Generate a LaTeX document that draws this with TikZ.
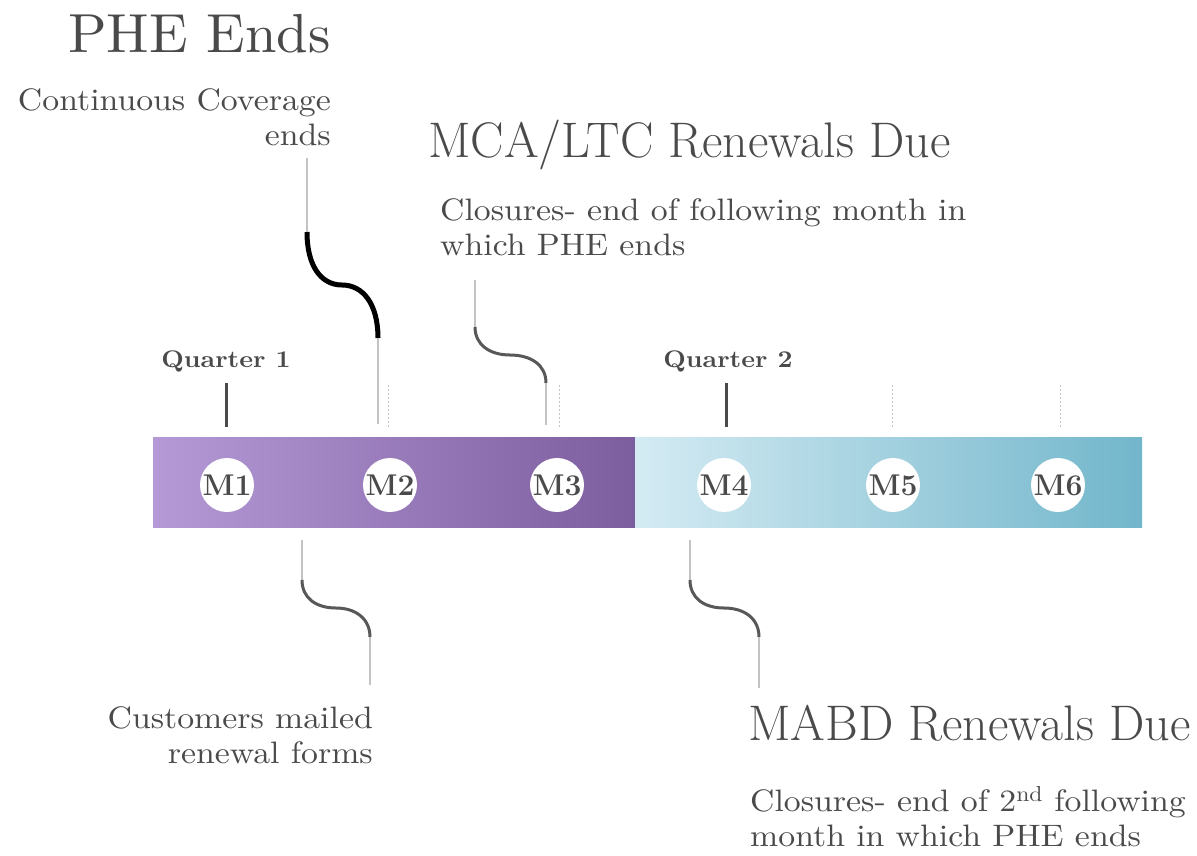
\documentclass[tikz,border=0pt]{standalone}
\usepackage{fontspec}
\newfontfamily\notefont{lmroman10-regular.otf}[BoldFont=lmroman10-bold.otf,FakeStretch=1.09]
\newfontfamily\headfont{lmroman10-regular.otf}[FakeStretch=1.03]
\usetikzlibrary{positioning}
\definecolor{txtgray}{RGB}{74,74,74}
\definecolor{lavlight}{RGB}{181,153,214}
\definecolor{lavdark}{RGB}{124,93,158}
\definecolor{teallight}{RGB}{212,235,243}
\definecolor{tealdark}{RGB}{114,182,203}
\definecolor{stemgray}{RGB}{195,195,195}
\definecolor{curvegray}{RGB}{88,88,88}
\tikzset{
  month/.style={circle,fill=white,minimum size=54pt,inner sep=0pt,text=txtgray,
    font=\fontsize{30}{32}\selectfont\bfseries},
  quarter/.style={anchor=base,text=txtgray,font=\notefont\fontsize{24}{26}\selectfont\bfseries},
  headline/.style={anchor=base west,inner sep=0pt,text=txtgray,font=\fontsize{50}{54}\selectfont},
  note/.style={inner sep=0pt,text=txtgray,font=\notefont\fontsize{31}{35}\selectfont},
  stem/.style={draw=stemgray,line width=2pt},
  wiggle/.style={draw=curvegray,line width=3pt},
  qtick/.style={draw=txtgray,line width=3pt},
  dots/.style={draw=stemgray,line width=0.8pt,dash pattern=on 2pt off 2pt}
}

\begin{document}
\begin{tikzpicture}[x=1pt,y=-1pt]
    \useasboundingbox (0,0) rectangle (1197,855);
    % timeline bar
    \fill[left color=lavlight,right color=lavdark] (153,437) rectangle (635,527);
    \fill[left color=teallight,right color=tealdark] (635,437) rectangle (1142,527);

    % months
    \node[month] (m1) at (227,485) {M1};
    \node[month] (m2) at (390,485) {M2};
    \node[month] (m3) at (557,485) {M3};
    \node[month] (m4) at (724,485) {M4};
    \node[month] (m5) at (893,485) {M5};
    \node[month] (m6) at (1058,485) {M6};

    % quarters
    \node[quarter] (q1) at (226,367) {Quarter 1};
    \node[quarter] (q2) at (728,367) {Quarter 2};
    \draw[qtick] (226,383) -- (226,427);
    \draw[qtick] (726,383) -- (726,427);
    \draw[dots] (388,385) -- (388,428);
    \draw[dots] (559,385) -- (559,428);
    \draw[dots] (892,385) -- (892,428);
    \draw[dots] (1060,385) -- (1060,428);

    % texts
    \node[headline,font=\headfont\fontsize{55}{58}\selectfont] (phe) at (68,52) {PHE Ends};
    \node[note,anchor=base east,align=right] (cont) at (331,145) {Continuous Coverage\\ends};
    \node[headline] (mca) at (428,157) {MCA/LTC Renewals Due};
    \node[note,anchor=base west,align=left] (clos1) at (440,255)
        {Closures- end of following month in\\which PHE ends};
    \node[note,anchor=base east,align=right] (cust) at (373,763) {Customers mailed\\renewal forms};
    \node[headline] (mabd) at (748,740) {MABD Renewals Due};
    \node[note,anchor=base west,align=left] (clos2) at (750,846)
        {Closures- end of 2\textsuperscript{nd} following\\month in which PHE ends};

    % connectors
    \coordinate (pheTop) at (307,158);
    \coordinate (pheA) at (307,232);
    \coordinate (pheB) at (378,338);
    \coordinate (pheBot) at (378,424);
    \draw[stem] (pheTop) -- (pheA);
    \draw[line width=5pt,black] (pheA) .. controls (307,266) and (321,285) .. (342,285)
        .. controls (363,285) and (378,304) .. (pheB);
    \draw[stem] (pheB) -- (pheBot);

    \coordinate (mcaTop) at (475,280);
    \coordinate (mcaA) at (475,327);
    \coordinate (mcaB) at (546,383);
    \coordinate (mcaBot) at (546,425);
    \draw[stem] (mcaTop) -- (mcaA);
    \draw[wiggle] (mcaA) .. controls (475,345) and (490,355) .. (510,355)
        .. controls (531,355) and (546,365) .. (mcaB);
    \draw[stem] (mcaB) -- (mcaBot);

    \coordinate (custTop) at (302,540);
    \coordinate (custA) at (302,580);
    \coordinate (custB) at (370,637);
    \coordinate (custBot) at (370,685);
    \draw[stem] (custTop) -- (custA);
    \draw[wiggle] (custA) .. controls (302,598) and (316,608) .. (336,608)
        .. controls (356,608) and (370,619) .. (custB);
    \draw[stem] (custB) -- (custBot);

    \coordinate (mabdTop) at (690,540);
    \coordinate (mabdA) at (690,580);
    \coordinate (mabdB) at (759,637);
    \coordinate (mabdBot) at (759,688);
    \draw[stem] (mabdTop) -- (mabdA);
    \draw[wiggle] (mabdA) .. controls (690,598) and (704,608) .. (724,608)
        .. controls (745,608) and (759,619) .. (mabdB);
    \draw[stem] (mabdB) -- (mabdBot);
\end{tikzpicture}
\end{document}
